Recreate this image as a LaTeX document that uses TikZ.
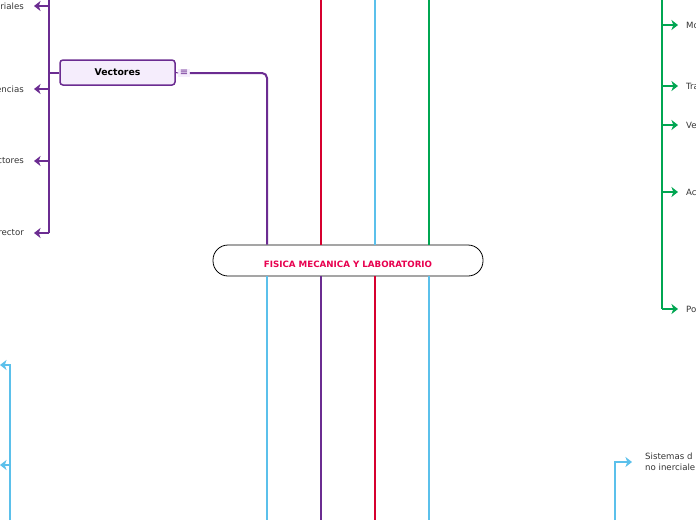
\documentclass[tikz,border=0pt]{standalone}
\usepackage{fontspec}
\setmainfont{DejaVu Sans}
\usetikzlibrary{arrows.meta}
\definecolor{purp}{HTML}{6B2C91}
\definecolor{lav}{HTML}{F5EDFC}
\definecolor{redl}{HTML}{D6002F}
\definecolor{blu}{HTML}{5BC0EB}
\definecolor{grn}{HTML}{00A651}
\definecolor{titc}{HTML}{E8004F}
\tikzset{
  branch/.style={line width=2pt},
  tip/.style={-{Stealth[length=6.5pt,width=10pt,inset=1.8pt]}},
  lbl/.style={font=\fontsize{8.6}{11}\selectfont, text=black!80, inner sep=0pt},
  central/.style={draw=black, line width=0.8pt, rounded corners=15pt, minimum width=270pt, minimum height=31pt, inner sep=0pt, fill=white},
  vecbox/.style={draw=purp, fill=lav, line width=1.5pt, rounded corners=3pt, minimum width=115pt, minimum height=25pt, inner sep=0pt, font=\bfseries\fontsize{9.3}{10}\selectfont},
  icon/.style={fill=lav, inner sep=1.5pt, font=\fontsize{10}{10}\selectfont, text=purp}
}
\begin{document}
\begin{tikzpicture}[x=1pt,y=-1pt]
\useasboundingbox (0,0) rectangle (696,520);
% coordinates off the canvas edges
\coordinate (pt) at (267,0);
\coordinate (rt) at (321,0);
\coordinate (bt) at (375,0);
\coordinate (gt) at (429,0);
\coordinate (b1) at (267,520);
\coordinate (b2) at (321,520);
\coordinate (b3) at (375,520);
\coordinate (b4) at (429,520);
% central node
\node[central] (c) at (348,260.5) {\smash{\raisebox{-6.5pt}{\textcolor{titc}{\bfseries\fontsize{8.7}{9}\selectfont FISICA MECANICA Y LABORATORIO}}}};
% Vectores
\node[vecbox] (vec) at (117.5,72.5) {Vectores};
\node[icon] (ic) at (184,73) {≡};
% lines above the centre
\draw[branch, redl] (rt) -- (rt |- c.north);
\draw[branch, blu] (bt) -- (bt |- c.north);
\draw[branch, grn] (gt) -- (gt |- c.north);
\draw[branch, purp, rounded corners=5pt] (pt |- c.north) |- (ic.east);
\draw[purp, line width=1pt] (vec.east) -- (ic.west);
% lines below the centre
\draw[branch, blu] (b1 |- c.south) -- (b1);
\draw[branch, purp] (b2 |- c.south) -- (b2);
\draw[branch, redl] (b3 |- c.south) -- (b3);
\draw[branch, blu] (b4 |- c.south) -- (b4);
% purple branch (left)
\coordinate (pv0) at (49,0);
\coordinate (pv1) at (49,6);
\coordinate (pv2) at (49,89);
\coordinate (pv3) at (49,161);
\coordinate (pv4) at (49,233);
\coordinate (pj) at (49,72.5);
\draw[branch, purp] (vec.west) -- (pj);
\draw[branch, purp] (pv0) -- (pv4);
\node[lbl, anchor=east] (l1) at (24,6) {riales};
\node[lbl, anchor=east] (l2) at (24,89) {encias};
\node[lbl, anchor=east] (l3) at (24,161) {ctores};
\node[lbl, anchor=east] (l4) at (24,233) {rector};
\foreach \i in {1,2,3,4}{
  \draw[branch, purp, tip] (pv\i) -- ([xshift=10pt]l\i.east);
}
% green branch (right)
\coordinate (gv0) at (662,0);
\coordinate (gv1) at (662,25);
\coordinate (gv2) at (662,86);
\coordinate (gv3) at (662,125);
\coordinate (gv4) at (662,192);
\coordinate (gv5) at (662,309);
\draw[branch, grn] (gv0) -- (gv5);
\node[lbl, anchor=west] (r1) at (686,25) {Mo};
\node[lbl, anchor=west] (r2) at (686,86) {Tra};
\node[lbl, anchor=west] (r3) at (686,125) {Ve};
\node[lbl, anchor=west] (r4) at (686,192) {Ac};
\node[lbl, anchor=west] (r5) at (686,309) {Po};
\foreach \i in {1,2,3,4,5}{
  \draw[branch, grn, tip] (gv\i) -- ([xshift=-8pt]r\i.west);
}
% light blue branch (bottom left)
\coordinate (lb0) at (10,520);
\coordinate (lb1) at (10,365);
\coordinate (lb2) at (10,465);
\coordinate (le1) at (0,365);
\coordinate (le2) at (0,465);
\draw[branch, blu, tip] (lb0) -- (lb1) -- (le1);
\draw[branch, blu, tip] (lb2) -- (le2);
% light blue branch (bottom right)
\coordinate (rb0) at (615,520);
\node[lbl, anchor=west, align=left, font=\fontsize{8.6}{11}\selectfont] (sis) at (645,462) {Sistemas d\\no inerciale};
\draw[branch, blu, tip] (rb0) |- ([xshift=-13pt]sis.west);
\end{tikzpicture}
\end{document}
